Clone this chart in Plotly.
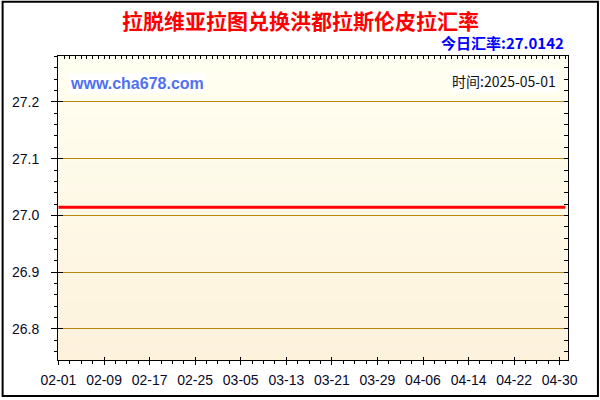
import plotly.graph_objects as go

# datos del grafico
fechas = ["2025-02-01", "2025-05-01"]
tasas = [27.0142]
valores = [27.0142, 27.0142]
titulo = "拉脱维亚拉图兑换洪都拉斯伦皮拉汇率"
hoy = "2025-05-01"

W, H = 600, 400
ML, MR, MT, MB = 57, 32, 56, 38
pw, ph = W - ML - MR, H - MT - MB

DIA = 86400000
rango_x = ["2025-01-31 22:00", "2025-05-01 11:00"]
rango_y = [26.745, 27.281]

fig = go.Figure()
fig.add_trace(go.Scatter(x=fechas, y=valores, mode="lines",
                         line=dict(color="#ff0000", width=3), hoverinfo="skip"))
# trazas vacias para los ejes espejo (ticks interiores)
fig.add_trace(go.Scatter(x=[], y=[], xaxis="x2", yaxis="y2", showlegend=False))
fig.add_trace(go.Scatter(x=[], y=[], xaxis="x3", yaxis="y3", showlegend=False))

# fondo degradado del area del grafico
n = 40
c0, c1 = (255, 255, 241), (253, 242, 220)
shapes = []
for i in range(n):
    t = i / (n - 1)
    col = tuple(round(c1[k] + (c0[k] - c1[k]) * t) for k in range(3))
    shapes.append(dict(type="rect", xref="x domain", yref="y domain",
                       x0=0, x1=1, y0=i / n, y1=(i + 1) / n + 0.002,
                       fillcolor="rgb(%d,%d,%d)" % col, line=dict(width=0), layer="below"))
# borde exterior
shapes.append(dict(type="rect", xref="paper", yref="paper",
                   x0=(-ML + 1.5) / pw, x1=1 + (MR - 2) / pw,
                   y0=(-MB + 1.8) / ph, y1=1 + (MT - 1.5) / ph,
                   line=dict(color="black", width=2)))

tick_font = dict(family="Liberation Sans, Arial", size=14, color="#0a0a28")

fig.update_layout(
    width=W, height=H, margin=dict(l=ML, r=MR, t=MT, b=MB),
    paper_bgcolor="white", plot_bgcolor="#fdf6e6", showlegend=False,
    shapes=shapes,
    xaxis=dict(type="date", range=rango_x, tick0="2025-02-01", dtick=8 * DIA,
               tickformat="%m-%d", ticks="outside", ticklen=4, tickcolor="black",
               showline=True, linecolor="black", linewidth=1, showgrid=False,
               zeroline=False, tickfont=tick_font, ticklabelstandoff=3,
               minor=dict(dtick=2 * DIA, tick0="2025-02-01", ticks="outside",
                          ticklen=3, tickcolor="black", showgrid=False)),
    yaxis=dict(range=rango_y, tick0=26.8, dtick=0.1, tickformat=".1f",
               ticks="outside", ticklen=6, tickcolor="black",
               showline=True, linecolor="black", linewidth=1,
               showgrid=True, gridcolor="#b8860b", gridwidth=1, zeroline=False,
               tickfont=tick_font, ticklabelstandoff=9,
               minor=dict(dtick=0.02, tick0=26.8, ticks="outside", ticklen=3,
                          tickcolor="black", showgrid=False)),
    xaxis2=dict(type="date", range=rango_x, overlaying="x", side="top", anchor="y2",
                tick0="2025-02-01", dtick=DIA, ticks="inside", ticklen=3,
                tickcolor="black", showticklabels=False, showline=True,
                linecolor="black", showgrid=False, zeroline=False),
    yaxis2=dict(range=rango_y, overlaying="y", side="right", anchor="x2",
                tick0=26.8, dtick=0.02, ticks="inside", ticklen=4,
                tickcolor="black", showticklabels=False, showline=True,
                linecolor="black", showgrid=False, zeroline=False),
    xaxis3=dict(type="date", range=rango_x, overlaying="x", side="bottom", anchor="y3",
                tick0="2025-02-01", dtick=8 * DIA, ticks="inside", ticklen=3,
                tickcolor="black", showticklabels=False, showgrid=False, zeroline=False),
    yaxis3=dict(range=rango_y, overlaying="y", side="left", anchor="x3",
                tick0=26.8, dtick=0.1, ticks="inside", ticklen=5,
                tickcolor="black", showticklabels=False, showgrid=False, zeroline=False),
    annotations=[
        dict(text="<b>" + titulo + "</b>", xref="paper", yref="paper",
             x=0.5, y=1 + (MT - 20) / ph, xanchor="center", yanchor="middle",
             showarrow=False, xshift=(MR - ML) / 2,
             font=dict(family="Noto Sans CJK SC", size=21, color="#ff0000")),
        dict(text="<b>今日汇率:%s</b>" % f"{tasas[0]:.4f}", xref="paper", yref="paper",
             x=1, y=1 + (MT - 42) / ph, xanchor="right", yanchor="middle",
             showarrow=False, xshift=-2,
             font=dict(family="Noto Sans CJK SC", size=15, color="#0000ff")),
        dict(text="<b>www.cha678.com</b>", xref="paper", yref="paper",
             x=(67 - ML) / pw, y=1 - (84 - MT) / ph, xanchor="left", yanchor="middle",
             showarrow=False, bgcolor="white", borderpad=1,
             font=dict(family="Liberation Sans, Arial", size=16, color="#5070f0")),
        dict(text="时间:" + hoy, xref="paper", yref="paper",
             x=(558 - ML) / pw, y=1 - (81 - MT) / ph, xanchor="right", yanchor="middle",
             showarrow=False, bgcolor="white", borderpad=1,
             font=dict(family="Noto Sans CJK SC", size=14, color="#111111")),
    ],
)

# quitar el margen por defecto del body
fig.write_html("out.html", config={"displayModeBar": False},
               post_script="document.body.style.margin='0';")
